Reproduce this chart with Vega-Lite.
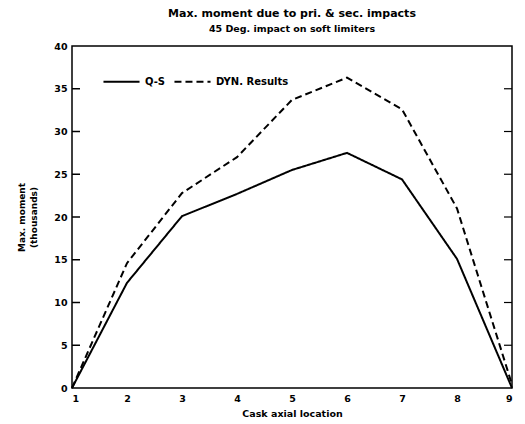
{
  "$schema": "https://vega.github.io/schema/vega-lite/v6.json",
  "width": 440,
  "height": 342,
  "autosize": {"type": "none"},
  "padding": {"left": 72, "top": 46, "right": 13, "bottom": 36},
  "background": "white",
  "config": {
    "font": "DejaVu Sans",
    "view": {"stroke": "black", "strokeWidth": 1.5},
    "axis": {"labelFont": "DejaVu Sans", "titleFont": "DejaVu Sans", "labelColor": "black", "titleColor": "black", "domain": false, "grid": false, "ticks": false, "labelFontWeight": "bold", "titleFontWeight": "bold"}
  },
  "title": {
    "text": "Max. moment due to pri. & sec. impacts",
    "subtitle": "45 Deg. impact on soft limiters",
    "anchor": "middle",
    "font": "DejaVu Sans",
    "subtitleFont": "DejaVu Sans",
    "fontSize": 11,
    "fontWeight": "bold",
    "subtitleFontSize": 9.5,
    "subtitleFontWeight": "bold",
    "subtitleColor": "black",
    "color": "black",
    "offset": 8,
    "subtitlePadding": 5
  },
  "datasets": {
    "moments": [
      {"loc": 1, "moment": 0, "series": "Q-S"},
      {"loc": 2, "moment": 12.3, "series": "Q-S"},
      {"loc": 3, "moment": 20.1, "series": "Q-S"},
      {"loc": 4, "moment": 22.7, "series": "Q-S"},
      {"loc": 5, "moment": 25.5, "series": "Q-S"},
      {"loc": 6, "moment": 27.5, "series": "Q-S"},
      {"loc": 7, "moment": 24.4, "series": "Q-S"},
      {"loc": 8, "moment": 15.1, "series": "Q-S"},
      {"loc": 9, "moment": 0, "series": "Q-S"},
      {"loc": 1, "moment": 0, "series": "DYN. Results"},
      {"loc": 2, "moment": 14.6, "series": "DYN. Results"},
      {"loc": 3, "moment": 22.8, "series": "DYN. Results"},
      {"loc": 4, "moment": 27.0, "series": "DYN. Results"},
      {"loc": 5, "moment": 33.7, "series": "DYN. Results"},
      {"loc": 6, "moment": 36.3, "series": "DYN. Results"},
      {"loc": 7, "moment": 32.6, "series": "DYN. Results"},
      {"loc": 8, "moment": 21.0, "series": "DYN. Results"},
      {"loc": 9, "moment": 0.4, "series": "DYN. Results"}
    ],
    "yticks": [
      {"v": 5}, {"v": 10}, {"v": 15}, {"v": 20}, {"v": 25}, {"v": 30}, {"v": 35}
    ]
  },
  "layer": [
    {
      "data": {"name": "moments"},
      "mark": {"type": "line", "color": "black", "strokeWidth": 2},
      "encoding": {
        "x": {"field": "loc", "type": "quantitative", "scale": {"domain": [1, 9], "nice": false},
          "axis": {"values": [1,2,3,4,5,6,7,8,9], "labelFontSize": 9.5, "labelPadding": 5, "title": "Cask axial location", "titleFontSize": 9.5, "titlePadding": 6}},
        "y": {"field": "moment", "type": "quantitative", "scale": {"domain": [0, 40], "nice": false},
          "axis": {"values": [0,5,10,15,20,25,30,35,40], "labelFontSize": 9.5, "labelPadding": 5, "title": ["Max. moment", "(thousands)"], "titleFontSize": 9, "titleLineHeight": 12, "titlePadding": 15}},
        "strokeDash": {"field": "series", "type": "nominal",
          "scale": {"domain": ["Q-S", "DYN. Results"], "range": [[1, 0], [7, 4]]},
          "legend": {"title": null, "orient": "none", "legendX": 30, "legendY": 16, "direction": "horizontal", "symbolType": "stroke", "symbolSize": 1300, "symbolStrokeWidth": 2, "symbolStrokeColor": "black", "labelFont": "DejaVu Sans", "labelFontSize": 10, "labelFontWeight": "bold", "labelColor": "black", "labelOffset": 4, "columnPadding": 4}}
      }
    },
    {
      "data": {"name": "yticks"},
      "mark": {"type": "tick", "orient": "horizontal", "color": "black", "size": 8, "thickness": 1.5, "xOffset": 4, "opacity": 1},
      "encoding": {
        "x": {"datum": 1, "type": "quantitative"},
        "y": {"field": "v", "type": "quantitative"}
      }
    },
    {
      "data": {"name": "yticks"},
      "mark": {"type": "tick", "orient": "horizontal", "color": "black", "size": 8, "thickness": 1.2, "xOffset": -4, "opacity": 1},
      "encoding": {
        "x": {"datum": 9, "type": "quantitative"},
        "y": {"field": "v", "type": "quantitative"}
      }
    }
  ]
}
